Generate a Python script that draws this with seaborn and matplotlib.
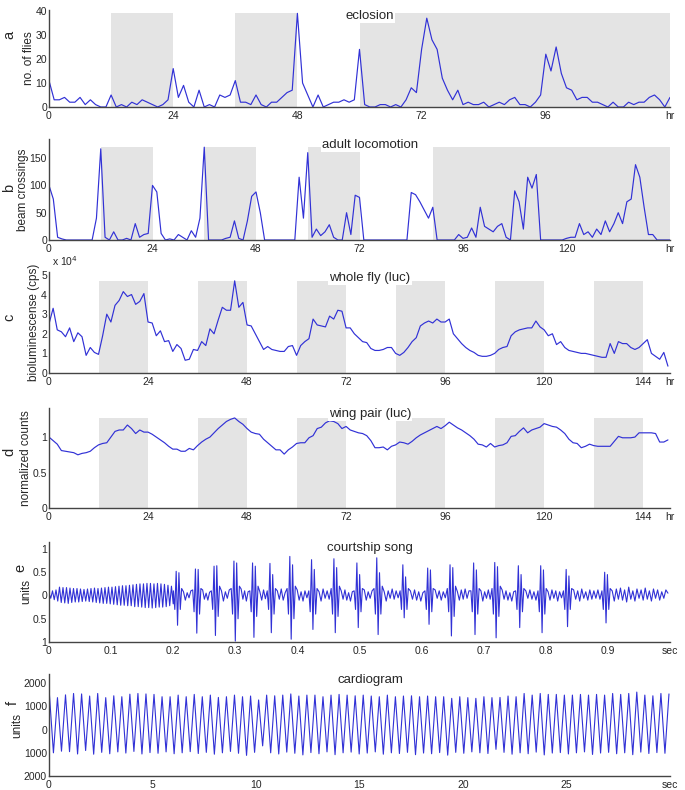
import numpy as np
import matplotlib
matplotlib.use("Agg")
import matplotlib.pyplot as plt
import seaborn as sns

# a: eclosion, flies per hour (hours 0..120)
eclosion = [11, 3, 3, 4, 2, 2, 4, 1, 3, 1,
            0, 0, 5, 0, 1, 0, 2, 1, 3, 2,
            1, 0, 1, 3, 16, 4, 9, 2, 0, 7,
            0, 1, 0, 5, 4, 5, 11, 2, 2, 1,
            5, 1, 0, 2, 2, 4, 6, 7, 39, 10,
            5, 0, 5, 0, 1, 2, 2, 3, 2, 3,
            24, 1, 0, 0, 1, 1, 0, 1, 0, 3,
            8, 6, 24, 37, 28, 24, 12, 7, 3, 7,
            1, 2, 1, 1, 2, 0, 1, 2, 1, 3,
            4, 1, 1, 0, 2, 5, 22, 15, 25, 14,
            8, 7, 3, 4, 4, 2, 2, 1, 0, 2,
            0, 0, 2, 1, 2, 2, 4, 5, 3, 0,
            4]

# b: adult locomotion, beam crossings per hour (hours 0..144)
locomotion = [100, 75, 5, 2, 0, 0, 0, 0, 0, 0,
              0, 40, 167, 5, 0, 15, 0, 0, 3, 0,
              30, 5, 10, 12, 100, 88, 12, 0, 2, 0,
              10, 5, 0, 17, 5, 40, 170, 0, 0, 0,
              0, 3, 5, 35, 3, 0, 35, 80, 88, 50,
              0, 0, 0, 0, 0, 0, 0, 0, 115, 40,
              160, 5, 20, 8, 15, 28, 5, 0, 0, 50,
              10, 82, 78, 0, 0, 0, 0, 0, 0, 0,
              0, 0, 0, 0, 87, 83, 70, 55, 40, 60,
              0, 0, 0, 0, 0, 10, 3, 5, 22, 5,
              60, 25, 20, 15, 25, 30, 5, 0, 90, 70,
              20, 115, 95, 120, 0, 0, 0, 0, 0, 0,
              3, 5, 5, 30, 10, 15, 5, 20, 10, 35,
              15, 30, 50, 30, 70, 75, 138, 115, 60, 10,
              10, 0, 0, 0, 0]

# c: whole fly luciferase, cps x 10^4 (hours 0..150)
whole_fly = [2.5, 3.3, 2.2, 2.1, 1.85, 2.3, 1.6, 2.05, 1.85, 0.9,
             1.3, 1.05, 0.95, 1.9, 3.0, 2.6, 3.45, 3.7, 4.15, 3.9,
             4.0, 3.5, 3.65, 4.05, 2.6, 2.55, 1.9, 2.15, 1.6, 1.65,
             1.1, 1.45, 1.25, 0.65, 0.7, 1.2, 1.15, 1.6, 1.4, 2.25,
             2.0, 2.7, 3.35, 3.2, 3.2, 4.7, 3.35, 3.6, 2.45, 2.4,
             2.0, 1.6, 1.2, 1.35, 1.2, 1.15, 1.1, 1.1, 1.35, 1.4,
             0.9, 1.4, 1.6, 1.75, 2.75, 2.45, 2.4, 2.35, 2.9, 2.75,
             3.2, 3.15, 2.3, 2.3, 2.0, 1.8, 1.6, 1.55, 1.25, 1.15,
             1.15, 1.2, 1.3, 1.3, 1.0, 0.9, 1.05, 1.3, 1.6, 1.8,
             2.4, 2.55, 2.65, 2.55, 2.75, 2.6, 2.6, 2.75, 2.0, 1.75,
             1.5, 1.3, 1.15, 1.05, 0.9, 0.85, 0.85, 0.9, 1.0, 1.2,
             1.3, 1.35, 1.9, 2.1, 2.2, 2.25, 2.3, 2.3, 2.65, 2.35,
             2.2, 1.9, 2.0, 1.45, 1.6, 1.3, 1.15, 1.1, 1.05, 1.0,
             1.0, 0.95, 0.9, 0.85, 0.8, 0.8, 1.5, 1.0, 1.6, 1.5,
             1.5, 1.3, 1.2, 1.3, 1.5, 1.7, 1.0, 0.85, 0.7, 1.05,
             0.35]

# d: wing pair luciferase, normalized counts (hours 0..150)
wing_pair = [1.0, 0.95, 0.9, 0.81, 0.8, 0.79, 0.78, 0.75, 0.77, 0.78,
             0.8, 0.85, 0.89, 0.91, 0.92, 1.0, 1.08, 1.1, 1.1, 1.17,
             1.12, 1.05, 1.1, 1.07, 1.07, 1.04, 1.0, 0.96, 0.92, 0.87,
             0.83, 0.83, 0.8, 0.8, 0.84, 0.82, 0.88, 0.93, 0.97, 1.0,
             1.06, 1.12, 1.17, 1.22, 1.25, 1.27, 1.22, 1.18, 1.12, 1.07,
             1.05, 1.04, 0.97, 0.92, 0.87, 0.82, 0.82, 0.76, 0.82, 0.86,
             0.91, 0.92, 0.92, 0.99, 1.02, 1.12, 1.14, 1.2, 1.23, 1.22,
             1.19, 1.12, 1.15, 1.10, 1.08, 1.06, 1.05, 1.02, 0.95, 0.85,
             0.85, 0.86, 0.82, 0.87, 0.89, 0.93, 0.92, 0.90, 0.94, 0.99,
             1.03, 1.06, 1.09, 1.12, 1.15, 1.12, 1.16, 1.21, 1.17, 1.13,
             1.10, 1.06, 1.02, 0.97, 0.90, 0.89, 0.86, 0.91, 0.86, 0.88,
             0.89, 0.92, 1.01, 1.02, 1.08, 1.13, 1.06, 1.10, 1.12, 1.14,
             1.19, 1.17, 1.15, 1.14, 1.10, 1.05, 0.97, 0.92, 0.91, 0.85,
             0.87, 0.90, 0.88, 0.87, 0.87, 0.87, 0.87, 0.94, 1.01, 0.99,
             0.99, 0.99, 1.00, 1.06, 1.06, 1.06, 1.06, 1.05, 0.93, 0.93,
             0.96]

# dark phases (hours)
dark_a = [(12, 24), (36, 48), (60, 120)]
dark_b = [(12, 24), (36, 48), (60, 72), (89, 144)]
dark_cd = [(12, 24), (36, 48), (60, 72), (84, 96), (108, 120), (132, 144)]

# e: courtship song. sine song extremes (0 - 0.2 s)
sine_end = 0.2
sine_hi = [0.05, 0.10, 0.12, 0.18, 0.17, 0.17, 0.16, 0.15, 0.15, 0.14,
           0.13, 0.14, 0.15, 0.16, 0.15, 0.16, 0.17, 0.18, 0.18, 0.19,
           0.20, 0.21, 0.21, 0.22, 0.23, 0.24, 0.25, 0.25, 0.26, 0.26,
           0.25, 0.26, 0.25, 0.24, 0.22, 0.20]
sine_lo = [-0.06, -0.09, -0.12, -0.15, -0.16, -0.17, -0.15, -0.14, -0.14, -0.13,
           -0.12, -0.13, -0.14, -0.15, -0.16, -0.17, -0.17, -0.18, -0.19, -0.20,
           -0.21, -0.21, -0.22, -0.22, -0.24, -0.24, -0.25, -0.26, -0.26, -0.27,
           -0.26, -0.25, -0.25, -0.24, -0.22, -0.18]
# pulse song: pulse centres (s) and the swings of each pulse
pulse_t = [0.207, 0.238, 0.268, 0.300, 0.330, 0.358, 0.390, 0.425, 0.461, 0.498,
           0.530, 0.572, 0.612, 0.648, 0.686, 0.720, 0.758, 0.794, 0.835, 0.897]
pulse_shape = [
    [0.10, -0.30, 0.52, -0.64, 0.49, -0.30, 0.15],
    [0.12, -0.35, 0.57, -0.81, 0.56, -0.40, 0.15],
    [0.10, -0.30, 0.63, -0.86, 0.64, -0.45, 0.20],
    [0.15, -0.40, 0.74, -0.98, 0.70, -0.50, 0.20],
    [0.10, -0.35, 0.70, -0.90, 0.63, -0.45, 0.20],
    [0.10, -0.30, 0.69, -0.80, 0.45, -0.40, 0.15],
    [0.15, -0.40, 0.84, -0.94, 0.66, -0.50, 0.20],
    [0.10, -0.35, 0.77, -0.73, 0.56, -0.40, 0.15],
    [0.15, -0.40, 0.79, -0.80, 0.60, -0.45, 0.20],
    [0.10, -0.30, 0.70, -0.69, 0.45, -0.35, 0.15],
    [0.15, -0.40, 0.81, -0.84, 0.49, -0.40, 0.20],
    [0.10, -0.30, 0.66, -0.48, 0.40, -0.30, 0.15],
    [0.10, -0.30, 0.59, -0.62, 0.55, -0.35, 0.15],
    [0.15, -0.35, 0.66, -0.87, 0.60, -0.45, 0.20],
    [0.10, -0.35, 0.70, -0.84, 0.55, -0.40, 0.15],
    [0.15, -0.40, 0.71, -0.91, 0.62, -0.45, 0.20],
    [0.10, -0.30, 0.64, -0.69, 0.45, -0.35, 0.15],
    [0.10, -0.35, 0.64, -0.80, 0.55, -0.40, 0.15],
    [0.10, -0.30, 0.56, -0.67, 0.42, -0.30, 0.15],
    [0.10, -0.30, 0.50, -0.59, 0.45, -0.30, 0.15],
]
# low-level hum after each pulse
song_hum = [
    [0.08, -0.10, 0.06, -0.05, 0.10],
    [0.12, -0.08, 0.05, -0.10, 0.07],
    [0.10, -0.12, 0.08, -0.06, 0.12],
    [0.14, -0.08, 0.10, -0.12, 0.08],
    [0.08, -0.10, 0.12, -0.07],
    [0.10, -0.08, 0.14, -0.10, 0.06],
    [0.12, -0.10, 0.08, -0.12, 0.10, -0.05],
    [0.08, -0.12, 0.14, -0.06, 0.10, -0.08],
    [0.10, -0.08, 0.12, -0.10, 0.06, -0.12, 0.08],
    [0.12, -0.10, 0.08, -0.06, 0.10],
    [0.08, -0.12, 0.10, -0.06, 0.14, -0.08, 0.10, -0.05],
    [0.10, -0.08, 0.12, -0.10, 0.08, -0.12, 0.06],
    [0.12, -0.06, 0.10, -0.10, 0.08, -0.05],
    [0.08, -0.10, 0.12, -0.08, 0.14, -0.06, 0.10],
    [0.10, -0.12, 0.08, -0.06, 0.12, -0.08],
    [0.12, -0.08, 0.10, -0.10, 0.06, -0.12, 0.08],
    [0.10, -0.06, 0.12, -0.08, 0.08, -0.10],
    [0.08, -0.10, 0.12, -0.06, 0.10, -0.12, 0.08, -0.05],
    [0.12, -0.08, 0.10, -0.12, 0.14, -0.06, 0.08, -0.10, 0.12, -0.08, 0.10, -0.06, 0.12, -0.08],
    [0.10, -0.12, 0.14, -0.08, 0.16, -0.10, 0.12, -0.14, 0.18, -0.08, 0.10, -0.12, 0.14, -0.06,
     0.12, -0.10, 0.16, -0.08, 0.10, -0.12, 0.14, -0.06, 0.12, -0.10, 0.08, -0.06, 0.12, 0.05],
]
song_end = 1.0

# f: cardiogram, beat peaks and troughs over 30 s
cardio_end = 29.95
cardio_peaks = [1520, 1380, 1500, 1560, 1540, 1450, 1560, 1380, 1460, 1420,
                1530, 1560, 1540, 1520, 1420, 1420, 1490, 1420, 1520, 1420,
                1490, 1390, 1420, 1490, 1420, 1450, 1280, 1490, 1460, 1490,
                1540, 1450, 1490, 1490, 1420, 1490, 1520, 1490, 1460, 1490,
                1450, 1420, 1490, 1420, 1450, 1460, 1420, 1450, 1420, 1420,
                1350, 1420, 1380, 1350, 1420, 1380, 1390, 1450, 1420, 1560,
                1490, 1560, 1520, 1520, 1490, 1490, 1520, 1490, 1520, 1490,
                1560, 1520, 1560, 1620, 1490, 1460, 1560, 1540]
cardio_troughs = [-1000, -930, -950, -1050, -900, -1060, -980, -1040, -960, -1010,
                  -940, -1050, -990, -1020, -960, -1040, -1000, -950, -1030, -980,
                  -1060, -1000, -940, -1020, -1110, -980, -700, -1000, -1050, -970,
                  -1020, -1090, -990, -1040, -960, -1080, -1000, -970, -1050, -1010,
                  -960, -1060, -1000, -1030, -980, -1080, -1010, -1040, -990, -1100,
                  -980, -1020, -960, -1000, -1030, -850, -980, -1060, -1000, -1040,
                  -970, -1090, -1010, -990, -1050, -1000, -960, -1070, -1010, -980,
                  -1040, -1000, -1080, -970, -1030, -990, -1020]

BLUE = '#3131d6'
GRAY = '#e4e4e4'
W, H = 685, 790

sns.set_style("white")
plt.rcParams['font.family'] = ['Liberation Sans', 'DejaVu Sans']

fig = plt.figure(figsize=(W / 100, H / 100), dpi=100)


def add_panel(top, bottom):
    return fig.add_axes([49 / W, 1 - bottom / H, 621 / W, (bottom - top) / H])


def style(ax, ylabel, title):
    for s in ['top', 'right']:
        ax.spines[s].set_visible(False)
    for s in ['left', 'bottom']:
        ax.spines[s].set_color('#444444')
        ax.spines[s].set_linewidth(1.0)
    ax.tick_params(which='both', direction='in', length=4, width=0.8, color='k',
                   labelsize=7.5)
    ax.tick_params(axis='y', pad=1.5)
    ax.tick_params(axis='x', pad=3)
    ax.set_ylabel(ylabel, fontsize=8.5, labelpad=0.5)
    ax.set_xlabel('')
    ax.text(0.517, 1.0, title, transform=ax.transAxes, ha='center', va='top',
            fontsize=9.5, zorder=6, bbox=dict(fc='white', ec='none', pad=0.8))


def circadian(ax, values, dark, xend, majors, ylim, yticks):
    t = np.arange(len(values))
    top = max(values)
    for s, e in dark:
        ax.fill_between([s, e], 0, top, color=GRAY, lw=0, zorder=0)
    sns.lineplot(x=t, y=values, ax=ax, color=BLUE, linewidth=0.85,
                 estimator=None, sort=False)
    ax.set_xlim(0, xend)
    ax.set_ylim(*ylim)
    ax.set_xticks(majors + [xend])
    ax.set_xticklabels([str(m) for m in majors] + ['hr'])
    ax.set_xticks(np.arange(0, xend + 0.1, 6), minor=True)
    ax.set_yticks(yticks)


# a
ax = add_panel(10, 107)
circadian(ax, eclosion, dark_a, 120, [0, 24, 48, 72, 96], (0, 40.4), [0, 10, 20, 30, 40])
style(ax, 'no. of flies', 'eclosion')

# b
ax = add_panel(139, 240)
circadian(ax, locomotion, dark_b, 144, [0, 24, 48, 72, 96, 120], (0, 185), [0, 50, 100, 150])
style(ax, 'beam crossings', 'adult locomotion')

# c
ax = add_panel(272, 373)
circadian(ax, whole_fly, dark_cd, 150.5, [0, 24, 48, 72, 96, 120, 144], (0, 5.15), [0, 1, 2, 3, 4, 5])
style(ax, 'bioluminescense (cps)', 'whole fly (luc)')
ax.text(0.005, 1.035, r'x 10$^4$', transform=ax.transAxes, fontsize=7.5, va='bottom', ha='left')

# d
ax = add_panel(408, 508)
circadian(ax, wing_pair, dark_cd, 150.5, [0, 24, 48, 72, 96, 120, 144], (0, 1.41), [0, 0.5, 1])
ax.set_yticklabels(['0', '0.5', '1'])
style(ax, 'normalized counts', 'wing pair (luc)')

# e: build the song trace from sine-song extremes, pulses and hum
sine_vals = np.empty(len(sine_hi) + len(sine_lo))
sine_vals[0::2] = sine_hi
sine_vals[1::2] = sine_lo
song_t = list(np.linspace(0.0, sine_end, len(sine_vals)))
song_y = list(sine_vals)
step = 0.0022
for i, (pt, shape) in enumerate(zip(pulse_t, pulse_shape)):
    k = len(shape)
    ts = pt + (np.arange(k) - (k - 1) / 2) * step
    song_t += list(ts)
    song_y += list(shape)
    if i + 1 < len(pulse_t):
        nxt = pulse_t[i + 1] - (len(pulse_shape[i + 1]) - 1) / 2 * step
    else:
        nxt = song_end
    hum = song_hum[i]
    song_t += list(np.linspace(ts[-1], nxt, len(hum) + 2)[1:-1])
    song_y += hum

ax = add_panel(542, 642)
sns.lineplot(x=song_t, y=song_y, ax=ax, color=BLUE, linewidth=0.8,
             estimator=None, sort=False)
ax.set_xlim(0, song_end)
ax.set_ylim(-1, 1.15)
ax.set_xticks(np.round(np.arange(0, 1.01, 0.1), 1))
ax.set_xticklabels(['0', '0.1', '0.2', '0.3', '0.4', '0.5', '0.6', '0.7', '0.8', '0.9', 'sec'])
ax.set_yticks([-1, -0.5, 0, 0.5, 1])
ax.set_yticklabels(['1', '0.5', '0', '0.5', '1'])
style(ax, 'units', 'courtship song')

# f: cardiogram as alternating peaks / troughs
n = min(len(cardio_peaks), len(cardio_troughs) + 1)
cardio_y = np.empty(2 * n - 1)
cardio_y[0::2] = cardio_peaks[:n]
cardio_y[1::2] = cardio_troughs[:n - 1]
cardio_t = np.linspace(0.02, cardio_end, len(cardio_y))

ax = add_panel(674, 776)
sns.lineplot(x=cardio_t, y=cardio_y, ax=ax, color=BLUE, linewidth=0.8,
             estimator=None, sort=False)
ax.set_xlim(0, 30)
ax.set_ylim(-2000, 2400)
ax.set_xticks([0, 5, 10, 15, 20, 25, 30])
ax.set_xticklabels(['0', '5', '10', '15', '20', '25', 'sec'])
ax.set_yticks([-2000, -1000, 0, 1000, 2000])
ax.set_yticklabels(['2000', '1000', '0', '1000', '2000'])
style(ax, 'units', 'cardiogram')

# panel letters
for letter, x, y in [('a', 9, 35), ('b', 9, 188), ('c', 9, 317),
                     ('d', 9, 452), ('e', 20, 568), ('f', 13, 703)]:
    fig.text(x / W, 1 - y / H, letter, rotation=90, ha='center', va='center', fontsize=10.5)

fig.savefig('out.png', dpi=100)
